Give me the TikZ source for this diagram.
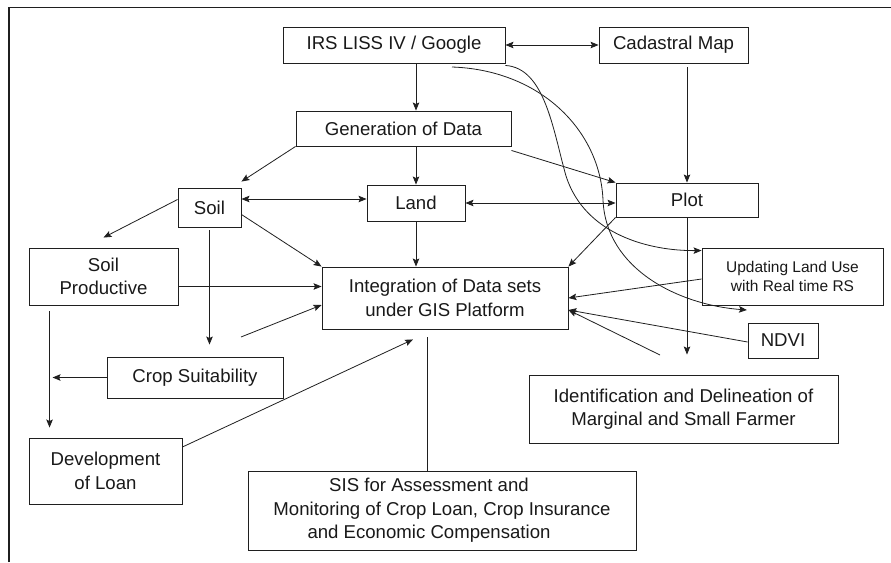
\documentclass[tikz,border=0pt]{standalone}
\usepackage{fontspec}
\setmainfont{Liberation Sans}
\usetikzlibrary{arrows.meta,calc}
\begin{document}
\begin{tikzpicture}[x=1pt,y=-1pt,
  color=black!88,
  box/.style={draw=black!88,line width=0.9pt,inner sep=0pt,align=center,text=black!90,
    font=\fontsize{18.6}{23.5}\selectfont},
  smallbox/.style={box,font=\fontsize{15.5}{19.5}\selectfont},
  arr/.style={draw=black!88,line width=0.8pt,-{Stealth[length=8pt,width=6.5pt,inset=1.5pt]}},
  darr/.style={draw=black!88,line width=0.8pt,{Stealth[length=8pt,width=6.5pt,inset=1.5pt]}-{Stealth[length=8pt,width=6.5pt,inset=1.5pt]}},
  ln/.style={draw=black!88,line width=0.8pt}]
\useasboundingbox (0,0) rectangle (891,562);
% frame
\draw[line width=1.3pt] (9,562) -- (9,7.5) -- (891,7.5);
% boxes
\node[box,minimum width=222pt,minimum height=36pt] (irs) at (394,45) {IRS LISS IV / Google};
\node[box,minimum width=149pt,minimum height=36pt] (cad) at (673.5,45) {Cadastral Map};
\node[box,minimum width=215pt,minimum height=35pt] (gen) at (403.5,128.5) {Generation of Data};
\node[box,minimum width=63pt,minimum height=39pt] (soil) at (209.5,207.5) {Soil};
\node[box,minimum width=98pt,minimum height=36pt] (land) at (416,203) {Land};
\node[box,minimum width=142pt,minimum height=34pt] (plot) at (687,200) {Plot};
\node[box,minimum width=149pt,minimum height=57pt] (sprod) at (103.5,276.5) {Soil\\Productive};
\node[box,minimum width=246pt,minimum height=62pt] (integ) at (445,298) {Integration of Data sets\\under GIS Platform};
\node[smallbox,minimum width=181pt,minimum height=57pt] (upd) at (792.5,276.5) {Updating Land Use\\with Real time RS};
\node[box,minimum width=70pt,minimum height=35pt] (ndvi) at (783,340.5) {NDVI};
\node[box,minimum width=176pt,minimum height=41pt] (crop) at (195,377.5) {Crop Suitability};
\node[box,minimum width=153pt,minimum height=66pt] (dev) at (105.5,471) {Development\\of Loan};
\node[box,minimum width=388pt,minimum height=79pt] (sis) at (442,510.5) {SIS for Assessment and\hspace*{26pt}\mbox{}\\Monitoring of Crop Loan, Crop Insurance\\and Economic Compensation\hspace*{26pt}\mbox{}};
\node[box,minimum width=309pt,minimum height=68pt] (ident) at (683.5,409) {Identification and Delineation of\\Marginal and Small Farmer};
% free ends
\coordinate (f1) at (241,337);
\coordinate (f2) at (660,355);
\coordinate (f3) at (452,67);
\coordinate (f4) at (747,310);
% connectors
\draw[arr] (irs.south -| land.north) -- (gen.north -| land.north);
\draw[darr] (irs.east) -- (cad.west);
\draw[arr] (gen.south west) -- ([yshift=6pt]soil.north east);
\draw[arr] (gen.south -| land.north) -- (land.north);
\draw[arr] ([yshift=-4pt]gen.south east) -- (plot.north west);
\draw[arr,shorten <=4pt] (cad.south -| plot.north) -- (plot.north);
\draw[darr] ([yshift=4pt]land.west -| soil.east) -- ([yshift=4pt]land.west);
\draw[darr] (land.east) -- (land.east -| plot.west);
\draw[arr] ([yshift=8pt]soil.west) -- ([yshift=10pt]sprod.north);
\draw[arr] ([yshift=-7pt]soil.east) -- (integ.north west);
\draw[arr] (land.south) -- (integ.north -| land.south);
\draw[arr] (plot.south west) -- (integ.north east);
\draw[arr] ([yshift=-10pt]sprod.east) -- ([yshift=-10pt]sprod.east -| integ.west);
\draw[arr,shorten <=3pt] (soil.south) -- ([yshift=12pt]crop.north -| soil.south);
\draw[arr] (f1) -- ([yshift=-7pt]integ.west);
\draw[arr] ([yshift=24pt]dev.east) -- ([xshift=-32pt,yshift=-10pt]integ.south);
\draw[arr,shorten <=6pt] ([xshift=21pt]sprod.south west) -- ([xshift=21pt,yshift=10pt]dev.north west);
\draw[arr] (crop.west) -- ([xshift=24pt]sprod.south west |- crop.west);
\draw[ln,shorten <=8pt] ([xshift=-18pt]integ.south) -- ([xshift=-18pt]integ.south |- sis.north);
\draw[arr] (plot.south) -- ([yshift=20pt]ident.north -| plot.south);
\draw[arr] ([yshift=-2.5pt]upd.west) -- (integ.east);
\draw[arr] ([yshift=-1.5pt]ndvi.west) -- ([yshift=-12pt]integ.east);
\draw[arr] (f2) -- ([yshift=-12pt]integ.east);
\draw[arr] ([yshift=-2pt]irs.south east) .. controls (545,68) and (553,130) .. (566,176)
   .. controls (585,235) and (650,251) .. ([yshift=-3pt]upd.north west);
\draw[arr] (f3) .. controls (540,70) and (600,130) .. (603,200)
   .. controls (606,270) and (680,305) .. (f4);
\end{tikzpicture}
\end{document}
